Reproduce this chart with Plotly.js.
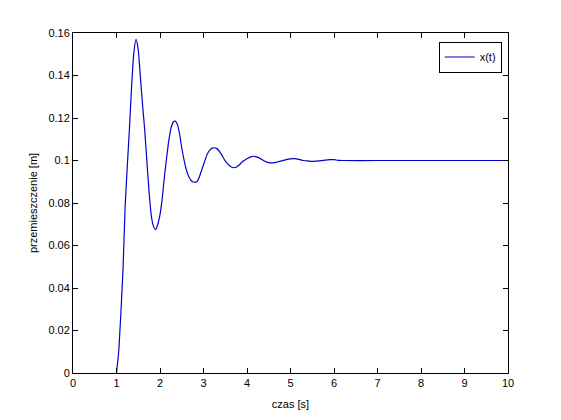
<!DOCTYPE html>
<html>
<head>
<meta charset="utf-8">
<script src="https://cdn.plot.ly/plotly-3.0.1.min.js"></script>
<style>html,body{margin:0;padding:0;background:#fff;}#chart{width:561px;height:420px;}</style>
</head>
<body>
<div id="chart"></div>
<script>
// time [s]
const czas = [1.00,1.05,1.10,1.15,1.20,1.25,1.30,1.35,1.40,1.45,1.50,1.55,1.60,1.65,1.70,1.75,1.80,1.85,1.90,1.95,
  2.00,2.05,2.10,2.15,2.20,2.25,2.30,2.35,2.40,2.45,2.50,2.55,2.60,2.65,2.70,2.75,2.80,2.85,2.90,2.95,
  3.00,3.05,3.10,3.15,3.20,3.25,3.30,3.35,3.40,3.45,3.50,3.55,3.60,3.65,3.70,3.75,3.80,3.90,
  4.00,4.10,4.15,4.20,4.30,4.40,4.50,4.60,4.70,4.80,4.90,5.00,5.10,5.20,5.30,5.40,5.50,5.60,5.70,5.80,5.90,
  6.00,6.10,6.20,7.00,8.00,9.00,10.00];
// displacement x(t) [m]
const przemieszczenie = [0,0.010,0.028,0.049,0.079,0.098,0.116,0.136,0.151,0.157,0.152,0.139,0.126,0.114,0.099,0.085,0.074,0.069,0.0675,0.070,
  0.0745,0.082,0.092,0.101,0.109,0.115,0.118,0.1185,0.117,0.1125,0.106,0.1005,0.096,0.093,0.091,0.090,0.0898,0.090,0.092,0.095,
  0.098,0.101,0.1035,0.105,0.1058,0.106,0.1057,0.1047,0.1032,0.1015,0.0998,0.0985,0.0975,0.0968,0.0966,0.0968,0.0975,0.0995,
  0.1008,0.1018,0.102,0.1018,0.101,0.0998,0.0990,0.0989,0.0993,0.0998,0.1004,0.1008,0.1009,0.1005,0.1000,0.0998,0.0996,0.0997,0.0999,0.1002,0.1004,
  0.1004,0.1001,0.1000,0.1000,0.1000,0.1000,0.1000];
const seriesName = 'x(t)';
const xTicks = [0,1,2,3,4,5,6,7,8,9,10];
const yTicks = [0,0.02,0.04,0.06,0.08,0.1,0.12,0.14,0.16];
const yTickText = ['0','0.02','0.04','0.06','0.08','0.1','0.12','0.14','0.16'];

const trace = {
  x: czas, y: przemieszczenie, type: 'scatter', mode: 'lines', name: seriesName,
  line: {color: '#0000d0', width: 1.2, shape: 'spline', smoothing: 0.6}
};
const font = {family: 'Liberation Sans, Arial, sans-serif', size: 11, color: '#000'};
const axisCommon = {
  showline: true, linecolor: '#000', linewidth: 1, mirror: 'ticks',
  ticks: 'inside', ticklen: 5, tickcolor: '#000', tickwidth: 1,
  showgrid: false, zeroline: false, tickfont: font
};
const layout = {
  width: 561, height: 420,
  margin: {l: 73, r: 53, t: 33, b: 47, pad: 0},
  paper_bgcolor: '#fff', plot_bgcolor: '#fff',
  font: font,
  showlegend: true,
  legend: {x: 0.9855, y: 0.975, xanchor: 'right', yanchor: 'top',
    bgcolor: '#fff', bordercolor: '#000', borderwidth: 1, font: font,
    tracegroupgap: 0, itemwidth: 30},
  xaxis: Object.assign({}, axisCommon, {range: [0, 10], tickvals: xTicks,
    title: {text: 'czas [s]', font: font, standoff: 12}}),
  yaxis: Object.assign({}, axisCommon, {range: [0, 0.16], tickvals: yTicks, ticktext: yTickText,
    title: {text: 'przemieszczenie [m]', font: font, standoff: 8}})
};
Plotly.newPlot('chart', [trace], layout, {displayModeBar: false, staticPlot: true});
</script>
</body>
</html>
